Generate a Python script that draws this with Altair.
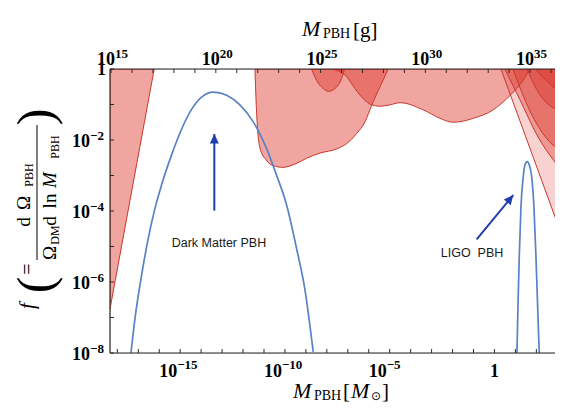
import numpy as np
import pandas as pd
import altair as alt

# ---------------- data (log10 values) ----------------
X_EXP_MIN, X_EXP_MAX = -18.35, 2.89          # M_PBH [M_sun] range shown
LOG10_MSUN_G = 33.2986                        # 1 M_sun in grams (log10)

# Dark-matter PBH mass function
dm_logm = [-17.35, -17.16, -16.84, -16.53, -16.21, -15.89, -15.41, -14.93, -14.45,
           -13.98, -13.42, -12.78, -12.15, -11.51, -10.87, -10.40, -9.92, -9.44,
           -9.05, -8.65]
dm_logf = [-8.0, -7.04, -5.80, -4.79, -3.94, -3.27, -2.42, -1.69, -1.13,
           -0.79, -0.65, -0.74, -1.01, -1.49, -2.25, -2.99, -3.83, -5.07,
           -6.20, -7.97]

# LIGO PBH mass function
ligo_logm = [1.074, 1.122, 1.184, 1.265, 1.375, 1.456, 1.566, 1.661, 1.776,
             1.885, 1.981, 2.062, 2.138]
ligo_logf = [-8.0, -6.70, -5.29, -3.88, -3.03, -2.70, -2.61, -2.70, -3.03,
             -3.88, -5.29, -6.70, -8.0]

# constraint regions (lower boundary; excluded up to f = 1)
a_logm = [-18.35, -16.24]
a_logf = [-6.76, 0.0]
b_logm = [-11.43, -11.38, -11.31, -11.19, -10.90, -10.57, -10.10, -9.52, -8.95,
          -8.33, -7.53, -7.05, -6.58, -6.18, -5.86, -5.47, -5.07]
b_logf = [0.0, -0.87, -1.66, -2.23, -2.56, -2.72, -2.77, -2.68, -2.51,
          -2.37, -2.25, -2.10, -1.82, -1.49, -1.02, -0.51, 0.0]
d_logm = [-8.73, -8.49, -8.17, -7.93, -7.61, -7.37, -7.15]
d_logf = [0.0, -0.32, -0.55, -0.63, -0.55, -0.37, 0.0]
e_logm = [-7.85, -7.37, -7.05, -6.66, -6.26, -5.86, -5.47, -4.99, -4.51, -3.40,
          -2.60, -1.97, -1.01, -0.06, 0.58, 1.06, 1.37, 1.69]
e_logf = [0.0, -0.08, -0.22, -0.55, -0.84, -1.01, -1.05, -1.01, -0.95, -1.15,
          -1.39, -1.50, -1.39, -1.15, -0.84, -0.55, -0.32, 0.0]
f_logm = [0.31, 2.98]
f_logf = [0.0, -4.31]
g1_logm = [0.50, 1.22, 2.03, 3.27]
g1_logf = [0.0, -0.87, -1.86, -2.90]
g2_logm = [0.88, 1.69, 2.51, 3.27]
g2_logf = [0.0, -1.18, -1.97, -2.34]
g3_logm = [1.55, 2.17, 3.27]
g3_logf = [0.0, -0.73, -1.21]
g4_logm = [1.93, 2.51, 3.27]
g4_logf = [0.0, -0.34, -0.73]

# annotations (log10 positions)
dm_arrow = dict(m=-13.37, f_tail=-3.99, f_tip=-1.83)
ligo_arrow = dict(m_tail=-0.85, f_tail=-4.80, m_tip=0.897, f_tip=-3.55)
dm_text = dict(m=-13.15, f=-4.90, text="Dark Matter PBH")
ligo_text = dict(m=-1.07, f=-5.18, text="LIGO\u00a0\u00a0PBH")

# axis ticks (exponents)
x_minor_exps = list(range(-18, 3))
x_label_exps = [-15, -10, -5, 0]
y_minor_exps = list(range(-8, 1))
y_label_exps = [0, -2, -4, -6, -8]
g_minor_exps = list(range(15, 37))
g_label_exps = [15, 20, 25, 30, 35]

# ---------------- styling ----------------
W, H = 445, 284
SERIF = "Liberation Serif"
SANS = "Liberation Sans"
AX = "#2a2a2a"
RED = "#dc3228"
EDGE = "#c8382d"
BLUE = "#5a82c5"
ARROW = "#1f3fae"
BASE_SIZE, EXP_SIZE = 18, 13

xs = alt.Scale(type="log", domain=[10 ** X_EXP_MIN, 10 ** X_EXP_MAX], nice=False)
ys = alt.Scale(type="log", domain=[1e-8, 1.0], nice=False)
XN = alt.X("m:Q", scale=xs, axis=None)
YN = alt.Y("f:Q", scale=ys, axis=None)


def pw(a):
    return 10.0 ** np.array(a, dtype=float)


def region(lm, lf, op):
    df = pd.DataFrame({"m": pw(lm), "f": pw(lf), "top": 1.0})
    return alt.Chart(df).mark_area(fill=RED, fillOpacity=op, stroke=EDGE, strokeWidth=1,
                                   clip=True, interpolate="monotone").encode(
        x=XN, y=YN, y2="top:Q")


def curve(lm, lf):
    df = pd.DataFrame({"m": pw(lm), "f": pw(lf)})
    return alt.Chart(df).mark_line(color=BLUE, strokeWidth=1.7, clip=True,
                                   interpolate="monotone").encode(x=XN, y=YN)


one = pd.DataFrame({"a": [0]})


def txt(s, x, y, size, angle=0, style="normal", align="center", baseline="middle", font=SERIF):
    return alt.Chart(one).mark_text(text=s, font=font, fontSize=size, angle=angle,
                                    fontStyle=style, align=align, baseline=baseline,
                                    color="black").encode(x=alt.value(x), y=alt.value(y))


def rule(**kw):
    return alt.Chart(one).mark_rule(color=AX, strokeWidth=1.2).encode(
        **{k: alt.value(v) for k, v in kw.items()})


def exp_str(e):
    return str(e).replace("-", "\u2212")


layers = [
    region(a_logm, a_logf, 0.44),
    region(b_logm, b_logf, 0.44),
    region(d_logm, d_logf, 0.44),
    region(e_logm, e_logf, 0.44),
    region(f_logm, f_logf, 0.22),
    region(g1_logm, g1_logf, 0.36),
    region(g2_logm, g2_logf, 0.36),
    region(g3_logm, g3_logf, 0.36),
    region(g4_logm, g4_logf, 0.36),
    curve(dm_logm, dm_logf),
    curve(ligo_logm, ligo_logf),
]

# arrows
dm_shaft = pd.DataFrame({"m": [10 ** dm_arrow["m"]], "m2": [10 ** dm_arrow["m"]],
                         "f": [10 ** dm_arrow["f_tail"]], "f2": [10 ** dm_arrow["f_tip"]]})
ligo_shaft = pd.DataFrame({"m": [10 ** ligo_arrow["m_tail"]], "m2": [10 ** ligo_arrow["m_tip"]],
                           "f": [10 ** ligo_arrow["f_tail"]], "f2": [10 ** ligo_arrow["f_tip"]]})
for sh in (dm_shaft, ligo_shaft):
    layers.append(alt.Chart(sh).mark_rule(color=ARROW, strokeWidth=2).encode(
        x=XN, x2="m2:Q", y=YN, y2="f2:Q"))

HEAD = "M0,0L1,2.1L-1,2.1Z"
layers.append(alt.Chart(pd.DataFrame({"m": [10 ** dm_arrow["m"]], "f": [10 ** dm_arrow["f_tip"]]}))
              .mark_point(shape=HEAD, size=81, filled=True, opacity=1, color=ARROW, strokeWidth=0)
              .encode(x=XN, y=YN))
layers.append(alt.Chart(pd.DataFrame({"m": [10 ** ligo_arrow["m_tip"]], "f": [10 ** ligo_arrow["f_tip"]]}))
              .mark_point(shape=HEAD, size=81, filled=True, opacity=1, color=ARROW, strokeWidth=0,
                          angle=39.6)
              .encode(x=XN, y=YN))

for t in (dm_text, ligo_text):
    layers.append(alt.Chart(pd.DataFrame({"m": [10 ** t["m"]], "f": [10 ** t["f"]]}))
                  .mark_text(text=t["text"], font=SANS, fontSize=12.5, color="#1a1a1a")
                  .encode(x=XN, y=YN))

# frame lines
layers += [
    rule(x=0, x2=W, y=H),
    rule(x=0, x2=W, y=0),
    rule(x=0, y=0, y2=H),
]

# inner tick marks
layers.append(alt.Chart(pd.DataFrame({"m": pw(x_minor_exps)})).mark_rule(color=AX).encode(
    x=XN, y=alt.value(H), y2=alt.value(H - 4)))
layers.append(alt.Chart(pd.DataFrame({"m": pw(np.array(g_minor_exps) - LOG10_MSUN_G)}))
              .mark_rule(color=AX, clip=True).encode(x=XN, y=alt.value(0), y2=alt.value(4)))
layers.append(alt.Chart(pd.DataFrame({"f": pw(y_minor_exps)})).mark_rule(color=AX).encode(
    y=YN, x=alt.value(0), x2=alt.value(4)))


def base_text(df, enc, align, dx=0, dy=0):
    return alt.Chart(df).mark_text(font=SERIF, fontSize=BASE_SIZE, fontWeight="bold",
                                   align=align, baseline="alphabetic", dx=dx, dy=dy,
                                   color="black").encode(text="base:N", **enc)


def exp_text(df, enc, dx=0, dy=0):
    return alt.Chart(df).mark_text(font=SERIF, fontSize=EXP_SIZE, fontWeight="bold",
                                   align="left", baseline="alphabetic", dx=dx, dy=dy,
                                   color="black").encode(text="exp:N", **enc)


# bottom tick labels
bx = [e for e in x_label_exps if e != 0]
bot = pd.DataFrame({"m": pw(bx), "base": "10", "exp": [exp_str(e) for e in bx]})
bot1 = pd.DataFrame({"m": pw([e for e in x_label_exps if e == 0]), "base": "1"})
layers += [
    base_text(bot, dict(x=XN, y=alt.value(H + 24)), "right", dx=-3),
    exp_text(bot, dict(x=XN, y=alt.value(H + 16)), dx=-3),
    base_text(bot1, dict(x=XN, y=alt.value(H + 24)), "center"),
]

# top tick labels (grams)
top = pd.DataFrame({"m": pw(np.array(g_label_exps) - LOG10_MSUN_G), "base": "10",
                    "exp": [exp_str(e) for e in g_label_exps]})
layers += [
    base_text(top, dict(x=XN, y=alt.value(-4)), "right", dx=4),
    exp_text(top, dict(x=XN, y=alt.value(-11)), dx=4),
]

# left tick labels
ly = [e for e in y_label_exps if e != 0]
left = pd.DataFrame({"f": pw(ly), "base": "10", "exp": [exp_str(e) for e in ly]})
left1 = pd.DataFrame({"f": pw([e for e in y_label_exps if e == 0]), "base": "1"})
layers += [
    base_text(left, dict(y=YN, x=alt.value(-20)), "right", dy=7),
    exp_text(left, dict(y=YN, x=alt.value(-20)), dy=0),
    base_text(left1, dict(y=YN, x=alt.value(-4)), "right", dy=6),
]

# y-axis title: f ( = dΩ_PBH / (Ω_DM d ln M_PBH) )
R = 270
layers += [
    txt("f", -82, 237, 21, R, "italic"),
    txt("(", -73, 216, 50, R),
    txt("=", -82, 200, 20, R),
    alt.Chart(one).mark_rule(color="black", strokeWidth=1).encode(
        x=alt.value(-73), y=alt.value(56), y2=alt.value(191)),
    txt("d", -86, 153, 19, R),
    txt("\u03a9", -86, 134, 19, R),
    txt("PBH", -81, 106, 12, R),
    txt("\u03a9", -60, 184, 19, R),
    txt("DM", -55, 166, 12, R),
    txt("d", -60, 152, 19, R),
    txt("ln", -60, 132, 19, R),
    txt("M", -60, 111, 19, R, "italic"),
    txt("PBH", -55, 78, 12, R),
    txt(")", -73, 48, 50, R),
]

# bottom title: M_PBH [M_sun]
TB = 329
layers += [
    txt("M", 183, TB, 22, 0, "italic", "left", "alphabetic"),
    txt("PBH", 204, TB + 2, 14, 0, "normal", "left", "alphabetic"),
    txt("[", 233, TB, 21, 0, "normal", "left", "alphabetic"),
    txt("M", 241, TB, 22, 0, "italic", "left", "alphabetic"),
    txt("\u2299", 261, TB + 2, 12, 0, "normal", "left", "alphabetic", "DejaVu Sans"),
    txt("]", 272, TB, 21, 0, "normal", "left", "alphabetic"),
]

# top title: M_PBH [g]
layers += [
    txt("M", 192, -33, 22, 0, "italic", "left", "alphabetic"),
    txt("PBH", 213, -31, 14, 0, "normal", "left", "alphabetic"),
    txt("[g]", 243, -32, 21, 0, "normal", "left", "alphabetic"),
]

chart = alt.layer(*layers).properties(
    width=W, height=H,
    padding={"left": 102, "top": 61, "right": 0, "bottom": 51},
    autosize=alt.AutoSizeParams(type="none"),
).configure_view(stroke=None).configure(background="white")

chart.save("out.html", embed_options={"renderer": "svg", "actions": False})
